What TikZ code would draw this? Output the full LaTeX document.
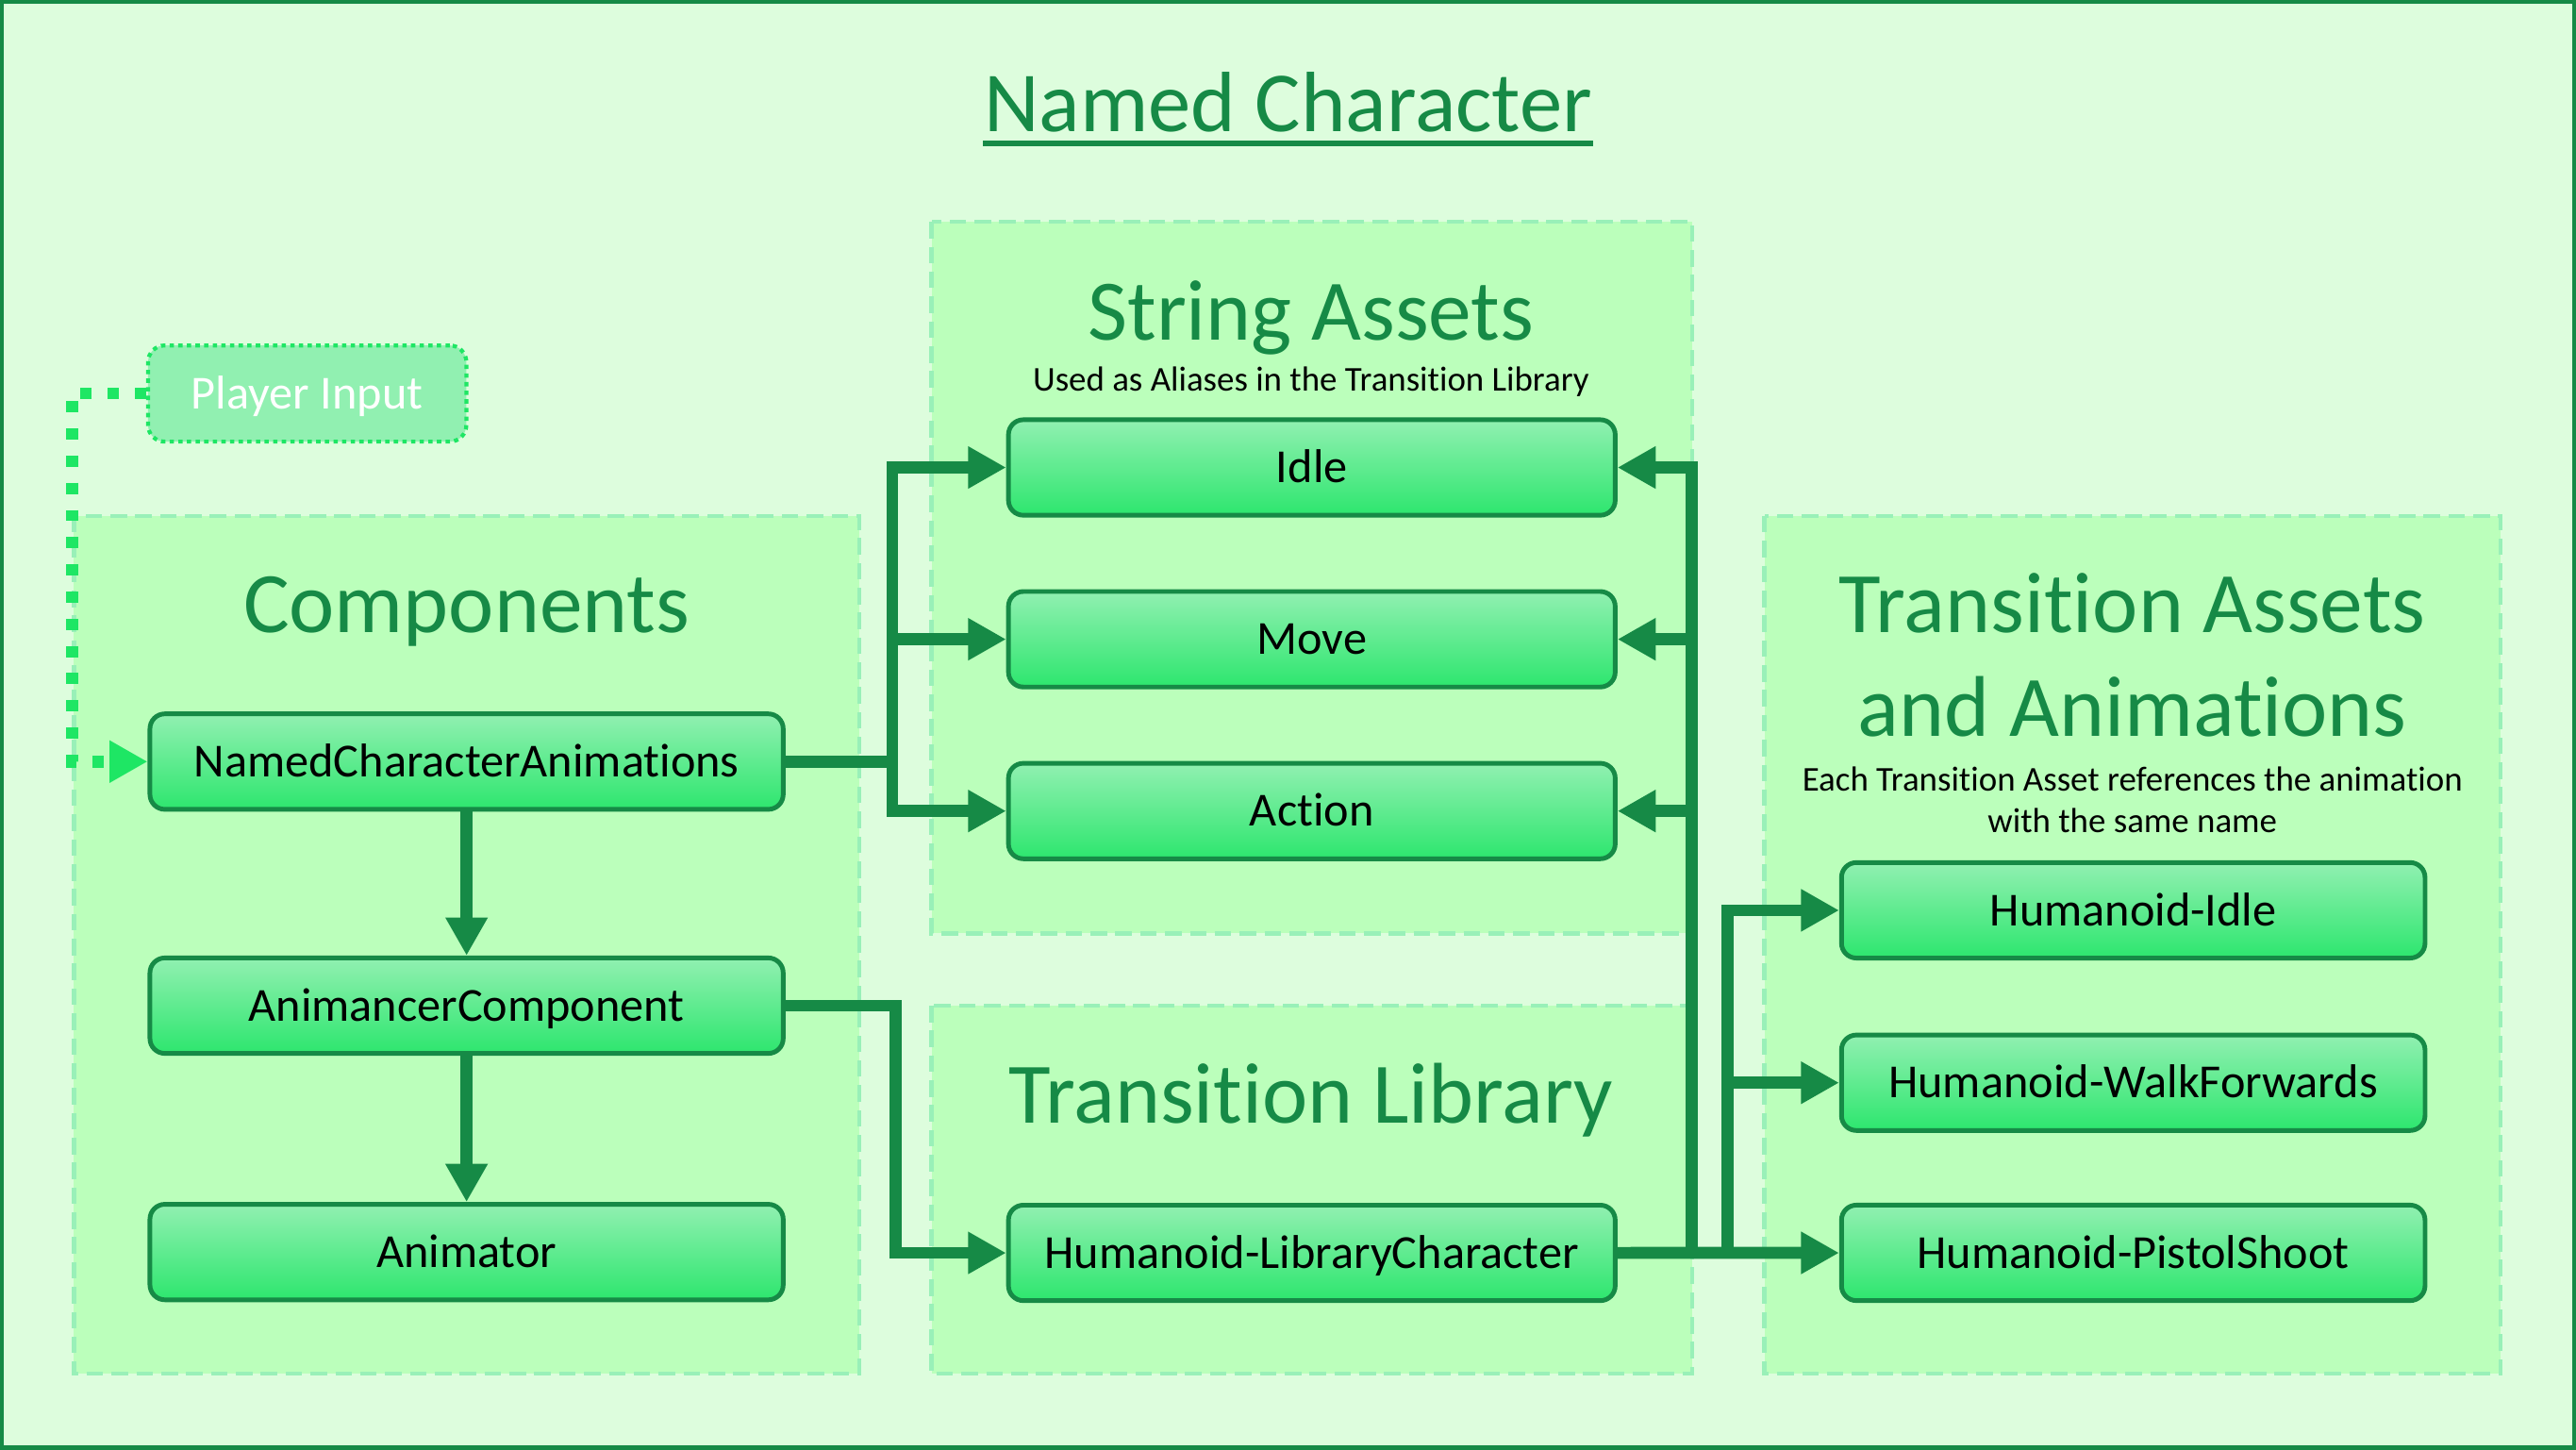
\documentclass[tikz,border=0pt]{standalone}
\usepackage{fontspec}
\setmainfont{Carlito}[Ligatures=NoCommon]
\usetikzlibrary{arrows.meta}
\usetikzlibrary{positioning}
\definecolor{NCback}{HTML}{DDFDDD}
\definecolor{NCgroup}{HTML}{BBFFBB}
\definecolor{NCgroupline}{HTML}{99F0B8}
\definecolor{NCdark}{HTML}{168A46}
\definecolor{NCbright}{HTML}{1EE664}
\definecolor{NCtop}{HTML}{91F0B1}
\definecolor{NCbottom}{HTML}{2DE66E}

\begin{document}
\begin{tikzpicture}[
  x=0.4955pt, y=-0.4955pt,
  on grid,
  box/.style={draw=NCdark, line width=1.4pt, rounded corners=4.5pt,
    top color=NCtop, bottom color=NCbottom, minimum width=191pt,
    minimum height=28.8pt, inner sep=0pt, text height=9.2pt, text depth=0pt,
    font=\fontsize{14.3}{16}\selectfont},
  pinput/.style={draw=NCbright, line width=1.2pt, dash pattern=on 1.3pt off 1.3pt,
    rounded corners=5pt, fill=NCtop, text=white, minimum width=96pt,
    minimum height=29pt, inner sep=0pt, text height=9.2pt, text depth=0pt,
    font=\fontsize{14.3}{16}\selectfont},
  group/.style={draw=NCgroupline, fill=NCgroup, line width=1.3pt, dash pattern=on 5pt off 2.5pt},
  grouptitle/.style={text=NCdark, anchor=base, inner sep=0pt, font=\fontsize{26}{31}\selectfont},
  note/.style={anchor=base, inner sep=0pt, font=\fontsize{10.5}{12}\selectfont},
  flow/.style={draw=NCdark, line width=3.6pt, -{Triangle[length=11.5pt,width=12pt]}},
  input/.style={draw=NCbright, line width=3.6pt, dash pattern=on 3.4pt off 4.8pt,
    -{Triangle[length=11.5pt,width=12pt]}},
  ]

\useasboundingbox (0,0) rectangle (1568,882);
\fill [NCback] (0,0) rectangle (1568,882);
\draw [NCdark, line width=1.2pt] (1,1) rectangle (1567,881);

% groups
\draw [group] (45,314) rectangle (523,836);
\draw [group] (567,135) rectangle (1030,568);
\draw [group] (567,612) rectangle (1030,836);
\draw [group] (1074,314) rectangle (1522,836);

% titles
\node [grouptitle, font=\fontsize{25.8}{30}\selectfont] (title) at (784,79.8) {Named Character};
\draw [NCdark, line width=1.6pt] ([yshift=-3.7pt]title.base west) -- ([yshift=-3.7pt]title.base east);
\node [grouptitle] (tcomp) at (284,385) {Components};
\node [grouptitle] (tstring) at (798,206.7) {String Assets};
\node [note] (nstring) at (798,238) {Used as Aliases in the Transition Library};
\node [grouptitle] (tlib) at (798,683.6) {Transition Library};
\node [grouptitle] (tassets) at (1298,385) {Transition Assets};
\node [grouptitle] (tanims) at (1298,448) {and Animations};
\node [note] (nassets) at (1298,481.6) {Each Transition Asset references the animation};
\node [note] (nsame) at (1298,506.9) {with the same name};

% nodes
\node [pinput] (pin) at (187,239.5) {Player Input};

\node [box] (nca) at (284,463.5) {NamedCharacterAnimations};
\node [box] (ac) [below=73.6pt of nca] {AnimancerComponent};
\node [box] (animator) [below=74.3pt of ac] {Animator};

\node [box, minimum width=183pt] (idle) at (798.5,284.5) {Idle};
\node [box, minimum width=183pt] (move) [below=51.8pt of idle] {Move};
\node [box, minimum width=183pt] (action) [below=51.8pt of move] {Action};
\node [box, minimum width=183pt] (hlc) at (798.5,762.5) {Humanoid-LibraryCharacter};

\node [box, minimum width=176pt] (hidle) at (1298.5,554) {Humanoid-Idle};
\node [box, minimum width=176pt] (hwalk) [below=52pt of hidle] {Humanoid-WalkForwards};
\node [box, minimum width=176pt] (hpistol) [below=51.3pt of hwalk] {Humanoid-PistolShoot};

% connectors
\draw [input] (pin.west) -- ++(-45,0) |- (nca.west);

\draw [flow] (nca) -- (ac);
\draw [flow] (ac) -- (animator);
\draw [flow] (nca.east) -- ++(65,0) |- (idle.west);
\draw [flow] (nca.east) -- ++(65,0) |- (move.west);
\draw [flow] (nca.east) -- ++(65,0) |- (action.west);
\draw [flow] (ac.east) -- ++(67,0) |- (hlc.west);

\draw [flow] (hlc.east) -- ++(45,0) |- (idle.east);
\draw [flow] (hlc.east) -- ++(45,0) |- (move.east);
\draw [flow] (hlc.east) -- ++(45,0) |- (action.east);
\draw [flow] (hlc.east) -- ++(67,0) |- (hidle.west);
\draw [flow] (hlc.east) -- ++(67,0) |- (hwalk.west);
\draw [flow] (hlc.east) -- (hpistol.west);
\end{tikzpicture}
\end{document}
